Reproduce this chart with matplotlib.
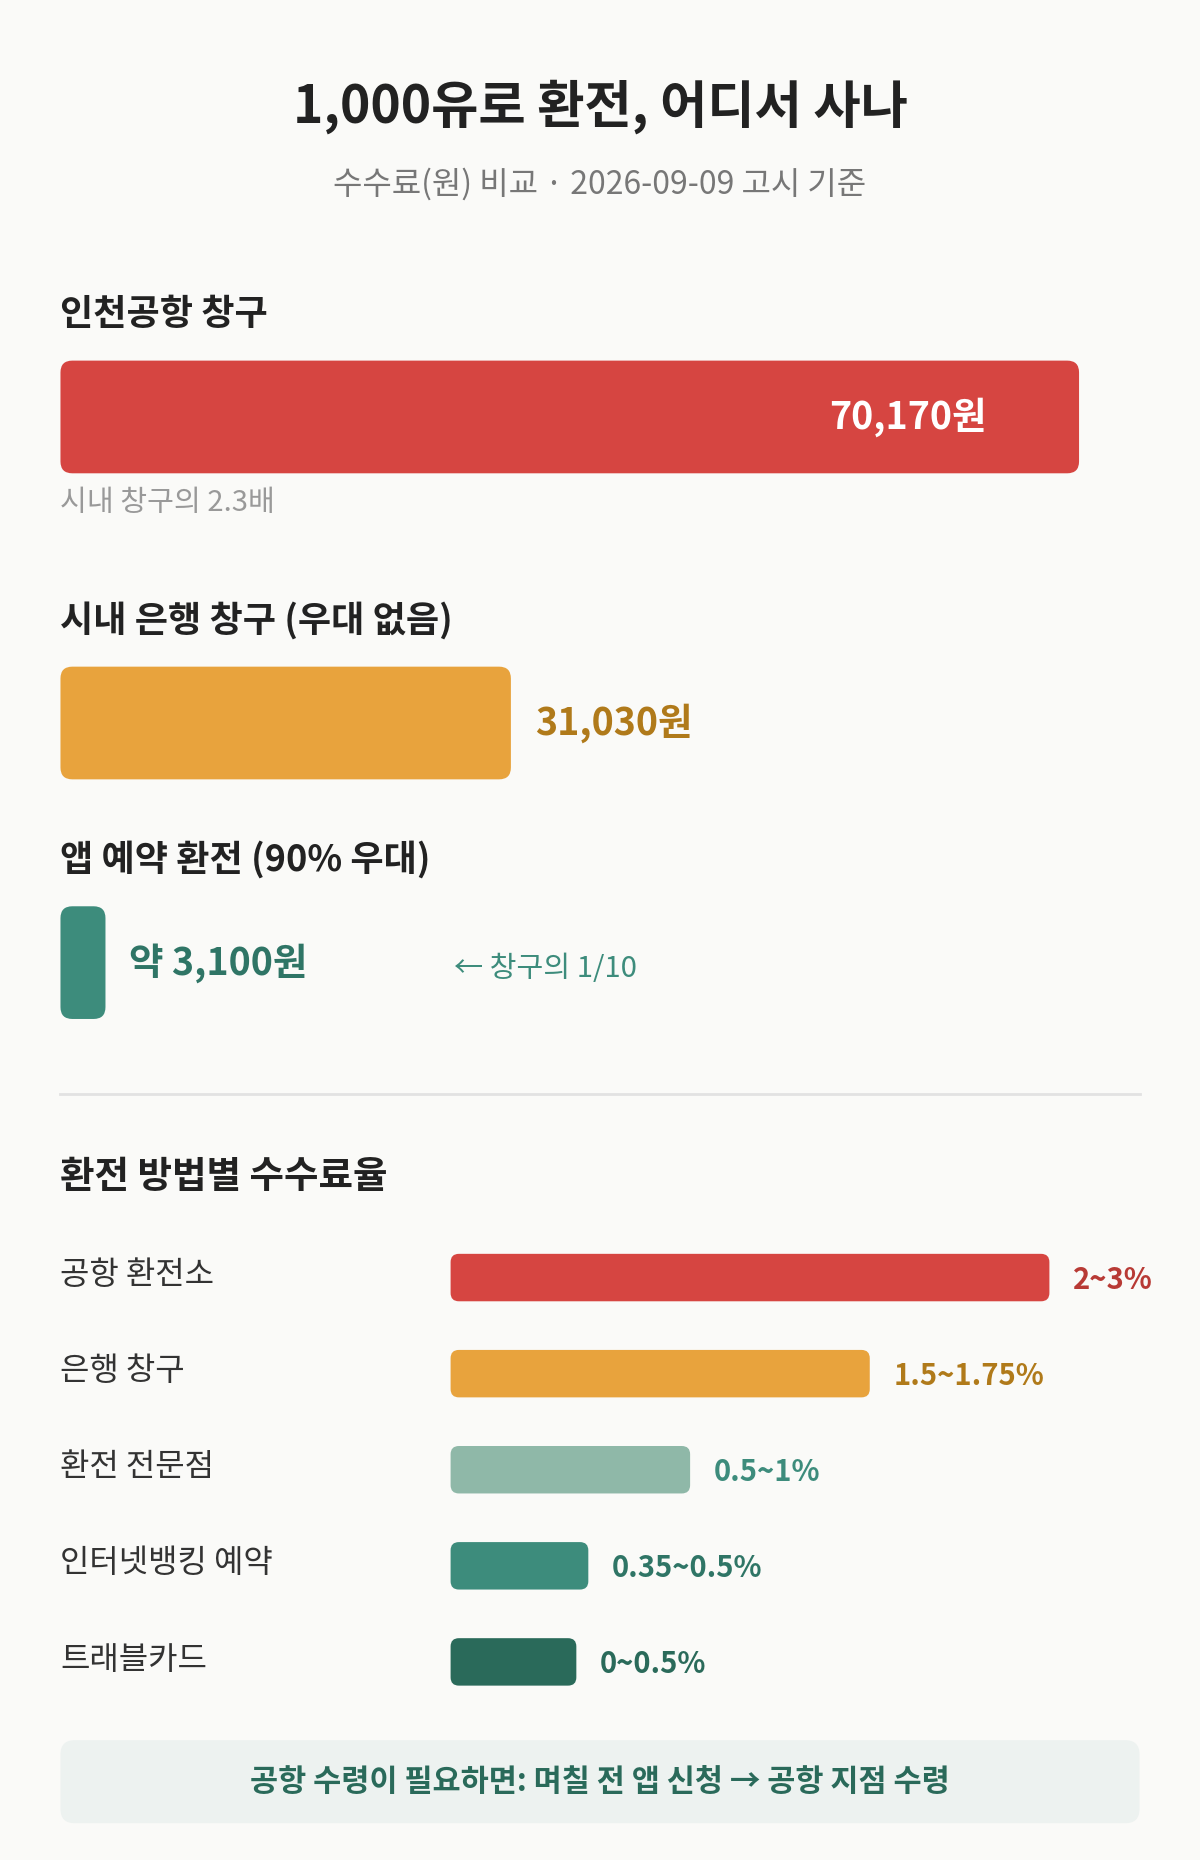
import matplotlib
matplotlib.use("Agg")
import matplotlib.pyplot as plt
from matplotlib.patches import FancyBboxPatch

plt.rcParams['font.family'] = ['Noto Sans CJK KR', 'DejaVu Sans']

title = "1,000유로 환전, 어디서 사나"
subtitle = "수수료(원) 비교 · 2026-09-09 고시 기준"

top_labels = ["인천공항 창구", "시내 은행 창구 (우대 없음)", "앱 예약 환전 (90% 우대)"]
top_values = [70170, 31030, 3100]
top_value_text = ["70,170원", "31,030원", "약 3,100원"]
top_colors = ["#D64541", "#E8A33D", "#3D8C7C"]
top_text_colors = ["white", "#B07A1A", "#2F7566"]

rate_labels = ["공항 환전소", "은행 창구", "환전 전문점", "인터넷뱅킹 예약", "트래블카드"]
rate_bar = [100, 70, 40, 23, 21]  # relative bar length (%)
rate_text = ["2~3%", "1.5~1.75%", "0.5~1%", "0.35~0.5%", "0~0.5%"]
rate_colors = ["#D64541", "#E8A33D", "#8FB8A8", "#3D8C7C", "#2A6A5A"]
rate_text_colors = ["#B83A35", "#B07A1A", "#3D8C7C", "#2F7566", "#2A6A5A"]

W, H = 1012, 1568
fig = plt.figure(figsize=(12, 18.6), dpi=100, facecolor="#FAFAF8")
ax = fig.add_axes([0, 0, 1, 1])
ax.set_xlim(0, W); ax.set_ylim(H, 0); ax.axis("off")

def rbar(x, y, w, h, color, r):
    ax.add_patch(FancyBboxPatch((x + r, y + r), max(w - 2 * r, 0.1), h - 2 * r,
                                boxstyle=f"round,pad={r}", fc=color, ec="none"))

ax.text(506, 90, title, ha="center", va="center", fontsize=37, fontweight="bold", color="#222222")
ax.text(506, 155, subtitle, ha="center", va="center", fontsize=23, color="#777777")

scale = 859 / max(top_values)
x0 = 51
label_y = [265, 523, 725]
bar_y = [304, 562, 764]
bh = 95
for i in range(3):
    ax.text(x0, label_y[i], top_labels[i], ha="left", va="center", fontsize=26, fontweight="bold", color="#222222")
    w = top_values[i] * scale
    rbar(x0, bar_y[i], w, bh, top_colors[i], 10)
    cy = bar_y[i] + bh / 2
    if i == 0:
        ax.text(x0 + w - 78, cy, top_value_text[i], ha="right", va="center", fontsize=27, fontweight="bold", color=top_text_colors[i])
    else:
        ax.text(x0 + w + 20, cy, top_value_text[i], ha="left", va="center", fontsize=27, fontweight="bold", color=top_text_colors[i])
ax.text(x0, 424, "시내 창구의 2.3배", ha="left", va="center", fontsize=21, color="#999999")
ax.text(383, 817, "← 창구의 1/10", ha="left", va="center", fontsize=21, color="#3D8C7C")

ax.plot([51, 961], [922, 922], color="#E2E2E2", lw=2)
ax.text(51, 992, "환전 방법별 수수료율", ha="left", va="center", fontsize=27, fontweight="bold", color="#222222")

rx = 380
full = 505
for i, lab in enumerate(rate_labels):
    cy = 1077 + i * 81
    ax.text(51, cy - 2, lab, ha="left", va="center", fontsize=23, color="#333333")
    w = rate_bar[i] / 100 * full
    rbar(rx, cy - 20, w, 40, rate_colors[i], 7)
    ax.text(rx + w + 20, cy + 2, rate_text[i], ha="left", va="center", fontsize=21, fontweight="bold", color=rate_text_colors[i])

rbar(51, 1467, 910, 70, "#EDF2F0", 12)
ax.text(506, 1502, "공항 수령이 필요하면: 며칠 전 앱 신청 → 공항 지점 수령", ha="center", va="center",
        fontsize=22, fontweight="bold", color="#2A6A5A")

fig.savefig("out.png", dpi=100, facecolor=fig.get_facecolor())
